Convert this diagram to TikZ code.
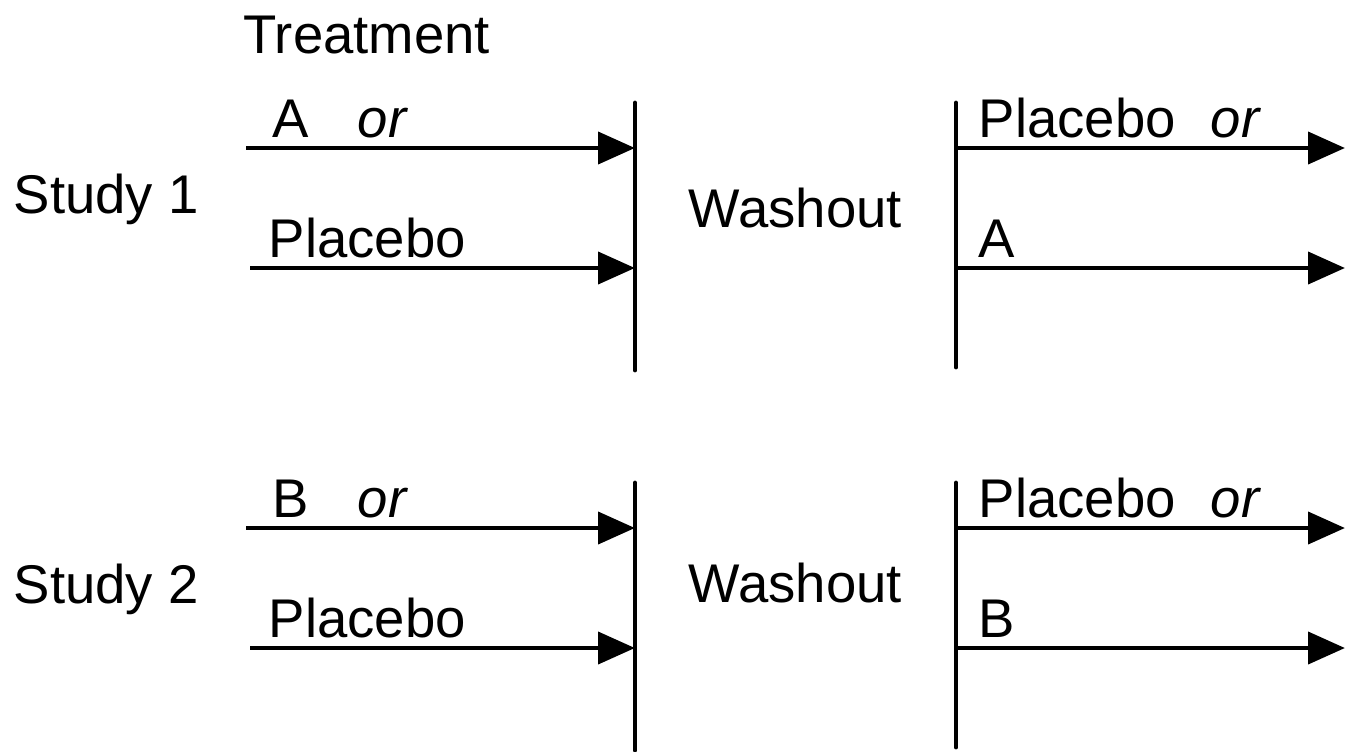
\documentclass[tikz,border=0pt]{standalone}
\usepackage{fontspec}
\setmainfont{Liberation Sans}
\usetikzlibrary{arrows.meta}
\begin{document}
\begin{tikzpicture}[x=0.01cm,y=-0.01cm,
    txt/.style={anchor=base west,inner sep=0pt,font=\fontsize{15.5}{18}\selectfont},
    arr/.style={draw=black,line width=1.4pt,-{Triangle[length=10.5pt,width=9pt]}},
    bar/.style={draw=black,line width=1.4pt,line cap=round}]
    \useasboundingbox (0,0) rectangle (1355,751);
    \node[txt] (treat) at (243,53) {Treatment};
    \foreach \s/\d/\y/\sy/\wy in {1/A/0/213/227,2/B/380/603/602}
        {\node[txt] (study\s) at (13,\sy) {Study \s};
        \node[txt] (wash\s) at (688,\wy) {Washout};
        % first period
        \node[txt] (drug\s) at (272,137+\y) {\d};
        \node[txt] (or\s) at (357,137+\y) {\itshape or};
        \node[txt] (plc\s) at (268,257+\y) {Placebo};
        \coordinate (lt\s) at (635,103+\y);
        \coordinate (lb\s) at (635,370+\y);
        \draw[bar] (lt\s) -- (lb\s);
        \coordinate (a\s) at (246,148+\y);
        \coordinate (b\s) at (250,268+\y);
        \draw[arr] (a\s) -- (a\s -| lt\s);
        \draw[arr] (b\s) -- (b\s -| lt\s);
        % second period
        \node[txt] (plcb\s) at (978,137+\y) {Placebo};
        \node[txt] (orb\s) at (1210,137+\y) {\itshape or};
        \node[txt] (drugb\s) at (978,257+\y) {\d};
        \coordinate (rt\s) at (956,103+\y);
        \coordinate (rb\s) at (956,367+\y);
        \draw[bar] (rt\s) -- (rb\s);
        \coordinate (c\s) at (1345,148+\y);
        \coordinate (d\s) at (1345,268+\y);
        \draw[arr] (c\s -| rt\s) -- (c\s);
        \draw[arr] (d\s -| rt\s) -- (d\s);}
\end{tikzpicture}
\end{document}
